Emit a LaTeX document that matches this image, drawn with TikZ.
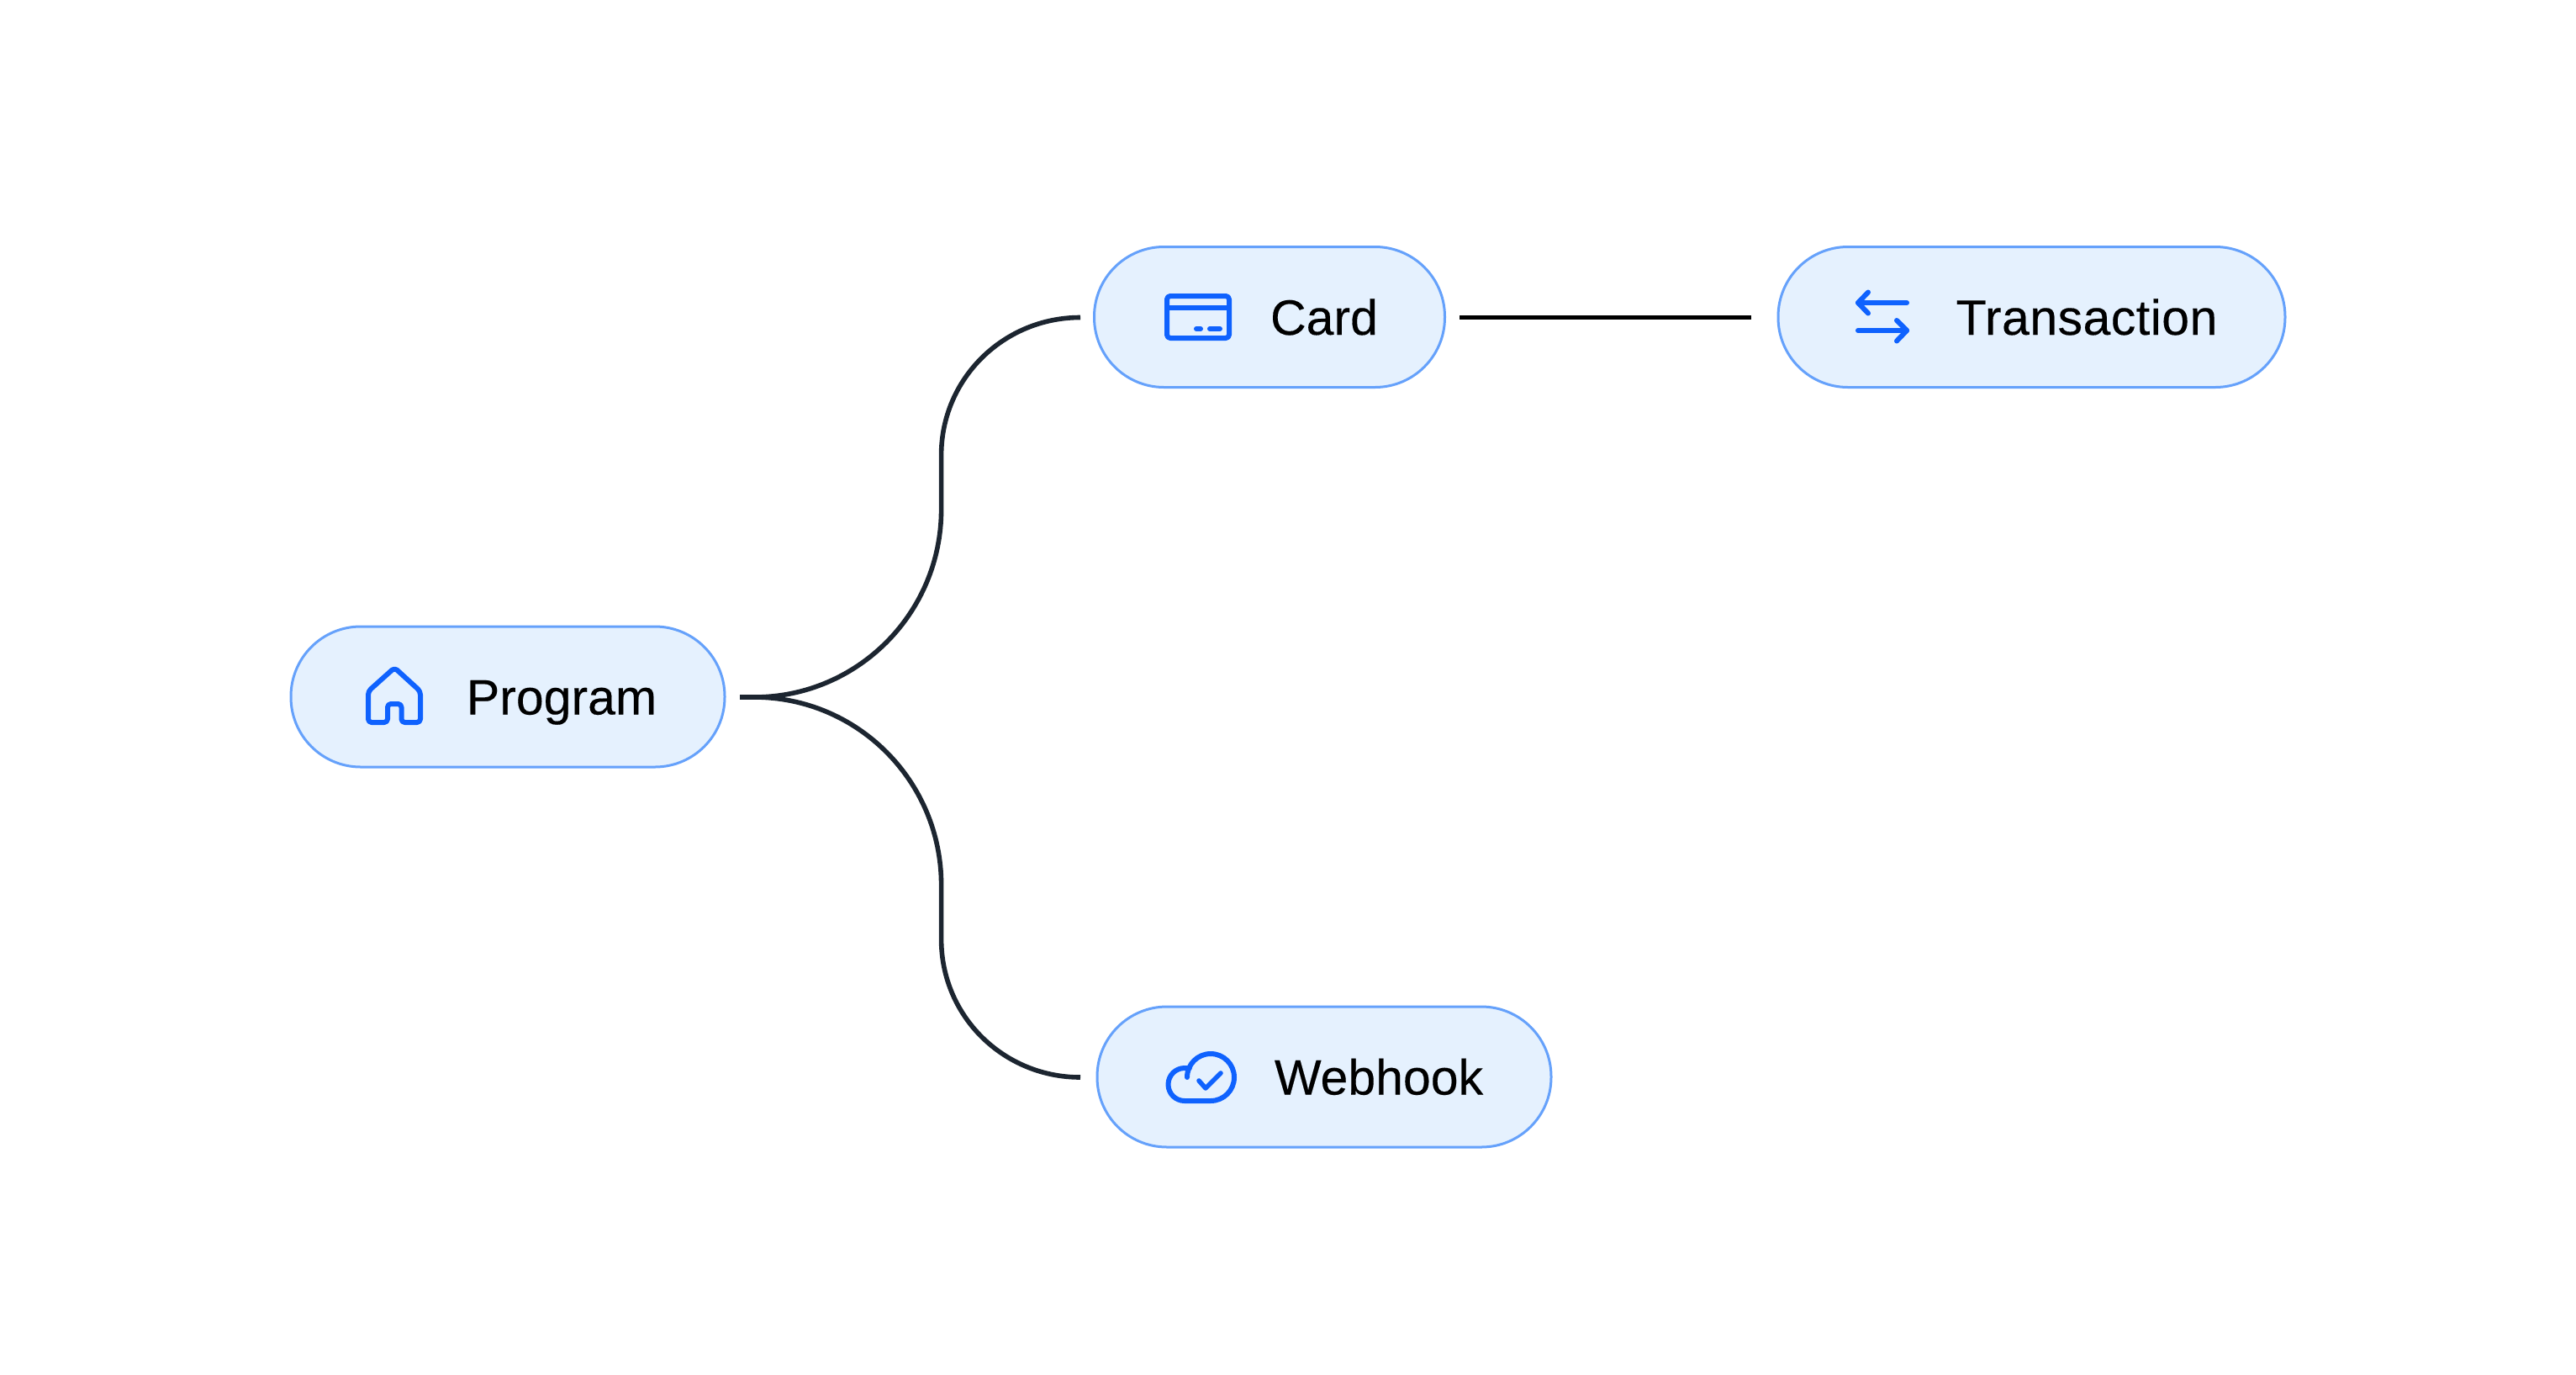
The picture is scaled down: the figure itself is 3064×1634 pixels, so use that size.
\documentclass[tikz,border=0pt]{standalone}
\usepackage{fontspec}
\setmainfont[FakeBold=0.25]{Liberation Sans}
\definecolor{pillfill}{HTML}{E5F1FE}
\definecolor{pillline}{HTML}{65A1FB}
\definecolor{iconblue}{HTML}{0F62FE}
\definecolor{wire}{HTML}{1C2530}
\tikzset{
  pill/.style={draw=pillline,fill=pillfill,line width=1.5pt,rounded corners=41.5pt,minimum height=83.5pt,inner sep=0pt,rectangle},
  pilltext/.style={anchor=base,inner sep=0pt,text=black,font=\fontsize{29.5pt}{34pt}\selectfont},
  icon/.style={draw=iconblue,line width=3pt,line cap=round,line join=round},
  iconfine/.style={draw=iconblue,line width=2.8pt,line cap=round,line join=round},
  wireline/.style={draw=wire,line width=2.8pt},
  blackline/.style={draw=black,line width=2.8pt}
}
\begin{document}
\begin{tikzpicture}[x=0.5pt,y=-0.5pt]
\useasboundingbox (0,0) rectangle (3064,1634);
\fill[white] (0,0) rectangle (3064,1634);
% pills
\node[pill,minimum width=258pt] (program) at (604,828.5) {};
\node[pill,minimum width=208.5pt] (card) at (1510,377) {};
\node[pill,minimum width=301.5pt] (transaction) at (2416.5,377) {};
\node[pill,minimum width=270pt] (webhook) at (1575,1280.5) {};
% labels
\node[pilltext] (tprogram) at (668,849.5) {Program};
\node[pilltext] (tcard) at (1575,398) {Card};
\node[pilltext] (ttransaction) at (2482,398) {\addfontfeature{LetterSpace=0.8}Transaction};
\node[pilltext] (twebhook) at (1640,1301.5) {Webhook};
% connector ends
\coordinate (pout) at (880,829);
\coordinate (cin) at (1285,377.5);
\coordinate (win) at (1285,1281);
\coordinate (cout) at (1736,377.5);
\coordinate (tin) at (2083,377.5);
% connectors
\draw[wireline] (pout) -- (897,829) .. controls (1020,829) and (1119.6,729) .. (1119.6,606) -- (1119.6,541) .. controls (1119.6,450.4) and (1193.6,377.5) .. (cin);
\draw[wireline] (pout) -- (897,829) .. controls (1020,829) and (1119.6,929) .. (1119.6,1052) -- (1119.6,1117) .. controls (1119.6,1208.4) and (1193.6,1281) .. (win);
\draw[blackline] (cout) -- (tin);
% home icon
\draw[icon,rounded corners=2pt] (469.3,794) -- (500,822) -- (500,859) -- (477.5,859) -- (477.5,837) -- (461,837) -- (461,859) -- (438,859) -- (438,822) -- cycle;
% card icon
\draw[icon,rounded corners=2pt] (1388,352) rectangle (1462,402);
\draw[icon,line cap=butt] (1388,366) -- (1462,366);
\draw[icon] (1423,391) -- (1428,391);
\draw[icon] (1439,391) -- (1451,391);
% arrows icon
\draw[icon] (2268,360) -- (2210,360);
\draw[icon] (2222,347.5) -- (2210,360) -- (2222,372.5);
\draw[icon] (2210,393) -- (2268,393);
\draw[icon] (2256,381) -- (2268,393) -- (2256,405.5);
% cloud icon
\draw[icon] (1412,1281) .. controls (1412,1265.5) and (1424.5,1253) .. (1440,1253)
  .. controls (1455.5,1253) and (1468,1265.5) .. (1468,1281)
  .. controls (1468,1296.5) and (1455.5,1309) .. (1440,1309)
  -- (1409,1309)
  .. controls (1398.2,1309) and (1389.5,1300.3) .. (1389.5,1289.5)
  .. controls (1389.5,1278.7) and (1398.2,1270) .. (1409,1270) -- (1415,1270);
\draw[iconfine] (1426,1285) -- (1434,1294) -- (1452,1276);
\end{tikzpicture}
\end{document}
